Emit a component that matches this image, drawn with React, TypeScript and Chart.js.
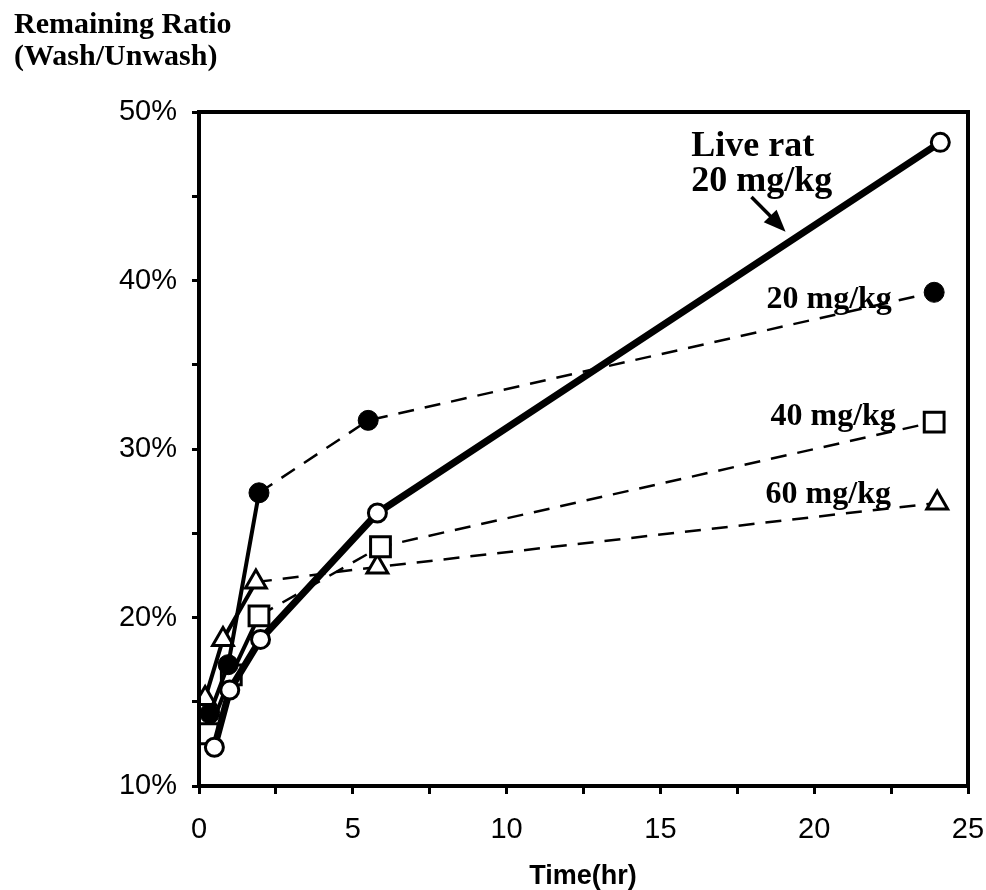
import React, { useEffect, useRef } from "react";
import { Chart, registerables } from "chart.js";

Chart.register(...registerables);

// Time (hr) and remaining ratio (%) for each series
const liveTimes = [0.5, 1, 2, 5.8, 24.1];
const liveValues = [12.3, 15.7, 18.7, 26.2, 48.2];

const d20Times = [0.35, 0.95, 1.95, 5.5, 23.9];
const d20Values = [14.3, 17.2, 27.4, 31.7, 39.3];

const d40Times = [0.3, 1.05, 1.95, 5.9, 23.9];
const d40Values = [13.1, 16.6, 20.1, 24.2, 31.6];

const d60Times = [0.2, 0.78, 1.85, 5.8, 24.0];
const d60Values = [15.2, 18.7, 22.1, 23.0, 26.8];

const xTickLabels = ["0", "5", "10", "15", "20", "25"];
const yTickLabels = ["10%", "20%", "30%", "40%", "50%"];

const yTitleLines = ["Remaining Ratio", "(Wash/Unwash)"];
const xTitle = "Time(hr)";
const liveLabelLines = ["Live rat", "20 mg/kg"];
const seriesLabels = ["20 mg/kg", "40 mg/kg", "60 mg/kg"];
// label anchors in data units (time, value)
const liveLabelAnchor = [16.0, 47.4];
const liveLabelAnchor2 = [16.0, 45.3];
const arrowFrom = [17.96, 44.96];
const arrowTo = [19.07, 42.9];
const seriesLabelAnchors = [
  [18.45, 38.37],
  [18.58, 31.4],
  [18.42, 26.8],
];

const toPts = (t: number[], v: number[]) => t.map((x, i) => ({ x, y: v[i] }));

const dashAfter2 = (ctx: any) => (ctx.p0.parsed.x >= 1.8 ? [16, 11] : []);
const widthAfter2 = (ctx: any) => (ctx.p0.parsed.x >= 1.8 ? 2.5 : 4);

const annotationPlugin = {
  id: "annot",
  afterDraw(chart: any) {
    const ctx = chart.ctx;
    const xs = chart.scales.x;
    const ys = chart.scales.y;
    const ca = chart.chartArea;
    ctx.save();
    // frame
    ctx.strokeStyle = "#000";
    ctx.lineWidth = 4;
    ctx.strokeRect(ca.left, ca.top, ca.right - ca.left, ca.bottom - ca.top);

    ctx.fillStyle = "#000";
    ctx.textBaseline = "alphabetic";
    ctx.textAlign = "left";
    // y title
    ctx.font = 'bold 30px "Liberation Serif", serif';
    ctx.fillText(yTitleLines[0], 14, 33);
    ctx.fillText(yTitleLines[1], 14, 65);
    // x title
    ctx.font = 'bold 27px "Liberation Sans", Arial, sans-serif';
    ctx.textAlign = "center";
    ctx.fillText(xTitle, 583, 884);

    // live rat label
    ctx.textAlign = "left";
    ctx.font = 'bold 36px "Liberation Serif", serif';
    ctx.fillText(liveLabelLines[0], xs.getPixelForValue(liveLabelAnchor[0]), ys.getPixelForValue(liveLabelAnchor[1]));
    ctx.fillText(liveLabelLines[1], xs.getPixelForValue(liveLabelAnchor2[0]), ys.getPixelForValue(liveLabelAnchor2[1]));

    // arrow
    const ax = xs.getPixelForValue(arrowFrom[0]);
    const ay = ys.getPixelForValue(arrowFrom[1]);
    const bx = xs.getPixelForValue(arrowTo[0]);
    const by = ys.getPixelForValue(arrowTo[1]);
    const ang = Math.atan2(by - ay, bx - ax);
    const headLen = 22;
    const headW = 9;
    ctx.lineWidth = 3.5;
    ctx.beginPath();
    ctx.moveTo(ax, ay);
    ctx.lineTo(bx - Math.cos(ang) * headLen * 0.8, by - Math.sin(ang) * headLen * 0.8);
    ctx.stroke();
    ctx.beginPath();
    ctx.moveTo(bx, by);
    ctx.lineTo(
      bx - Math.cos(ang) * headLen + Math.sin(ang) * headW,
      by - Math.sin(ang) * headLen - Math.cos(ang) * headW
    );
    ctx.lineTo(
      bx - Math.cos(ang) * headLen - Math.sin(ang) * headW,
      by - Math.sin(ang) * headLen + Math.cos(ang) * headW
    );
    ctx.closePath();
    ctx.fill();

    // series labels
    ctx.font = 'bold 32px "Liberation Serif", serif';
    seriesLabels.forEach((s, i) => {
      ctx.fillText(s, xs.getPixelForValue(seriesLabelAnchors[i][0]), ys.getPixelForValue(seriesLabelAnchors[i][1]));
    });
    ctx.restore();
  },
};

export default function App() {
  const ref = useRef<HTMLCanvasElement | null>(null);
  useEffect(() => {
    document.body.style.margin = "0";
    const canvas = ref.current;
    if (!canvas) return;
    const tickFont = { family: '"Liberation Sans", Arial, sans-serif', size: 29 };
    const chart = new Chart(canvas, {
      type: "line",
      data: {
        datasets: [
          {
            label: "Live rat 20 mg/kg",
            data: toPts(liveTimes, liveValues),
            borderColor: "#000",
            borderWidth: 7,
            pointStyle: "circle",
            pointRadius: 9,
            pointBorderWidth: 3,
            pointBackgroundColor: "#fff",
            pointBorderColor: "#000",
            tension: 0,
            order: 1,
          },
          {
            label: "20 mg/kg",
            data: toPts(d20Times, d20Values),
            borderColor: "#000",
            borderWidth: 4,
            segment: { borderDash: dashAfter2, borderWidth: widthAfter2 },
            pointStyle: "circle",
            pointRadius: 10,
            pointBorderWidth: 1,
            pointBackgroundColor: "#000",
            pointBorderColor: "#000",
            tension: 0,
            order: 2,
          },
          {
            label: "40 mg/kg",
            data: toPts(d40Times, d40Values),
            borderColor: "#000",
            borderWidth: 4,
            segment: { borderDash: dashAfter2, borderWidth: widthAfter2 },
            pointStyle: "rect",
            pointRadius: 14,
            pointBorderWidth: 3,
            pointBackgroundColor: "#fff",
            pointBorderColor: "#000",
            tension: 0,
            order: 3,
          },
          {
            label: "60 mg/kg",
            data: toPts(d60Times, d60Values),
            borderColor: "#000",
            borderWidth: 4,
            segment: { borderDash: dashAfter2, borderWidth: widthAfter2 },
            pointStyle: "triangle",
            pointRadius: 12,
            pointBorderWidth: 3,
            pointBackgroundColor: "#fff",
            pointBorderColor: "#000",
            tension: 0,
            order: 4,
          },
        ],
      },
      options: {
        responsive: false,
        animation: false,
        devicePixelRatio: 1,
        layout: { padding: { top: 112, right: 18, left: 0, bottom: 0 } },
        plugins: { legend: { display: false }, tooltip: { enabled: false }, title: { display: false } },
        scales: {
          x: {
            type: "linear",
            min: 0,
            max: 25,
            afterFit: (s: any) => {
              s.height = 104;
              s.paddingLeft = 0;
              s.paddingRight = 0;
            },
            ticks: {
              stepSize: 2.5,
              autoSkip: false,
              maxRotation: 0,
              color: "#000",
              font: tickFont,
              padding: 19,
              callback: (v: any) => (Number(v) % 5 === 0 ? xTickLabels[Number(v) / 5] : ""),
            },
            grid: {
              drawOnChartArea: false,
              drawTicks: true,
              tickLength: 8,
              color: "#000",
              lineWidth: 3,
            },
            border: { display: false },
          },
          y: {
            type: "linear",
            min: 10,
            max: 50,
            afterFit: (s: any) => {
              s.width = 199;
              s.paddingTop = 0;
              s.paddingBottom = 0;
            },
            ticks: {
              stepSize: 5,
              autoSkip: false,
              color: "#000",
              font: tickFont,
              padding: 15,
              callback: (v: any) => (Number(v) % 10 === 0 ? yTickLabels[(Number(v) - 10) / 10] : ""),
            },
            grid: {
              drawOnChartArea: false,
              drawTicks: true,
              tickLength: 7,
              color: "#000",
              lineWidth: 3,
            },
            border: { display: false },
          },
        },
      },
      plugins: [annotationPlugin],
    });
    return () => chart.destroy();
  }, []);
  return <canvas ref={ref} width={986} height={890} style={{ display: "block", width: 986, height: 890 }} />;
}
